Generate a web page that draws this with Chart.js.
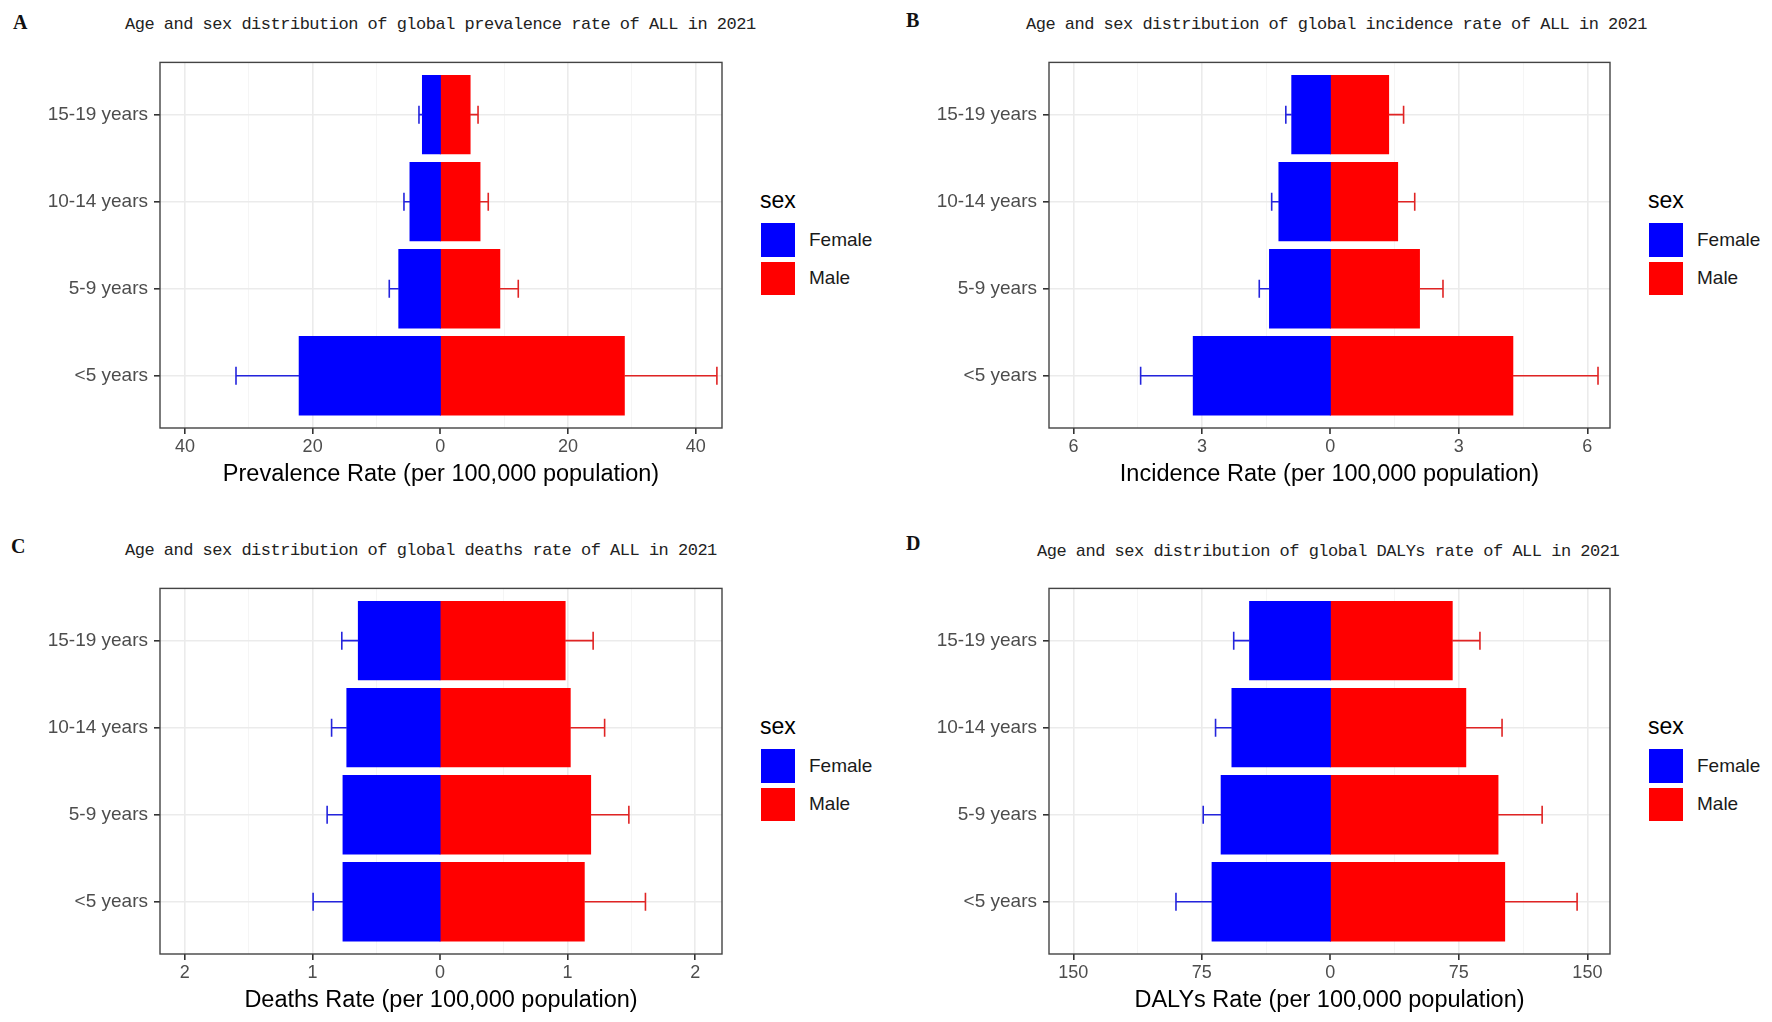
<!DOCTYPE html>
<html>
<head>
<meta charset="utf-8">
<script src="https://cdn.jsdelivr.net/npm/chart.js@4.4.1/dist/chart.umd.min.js"></script>
<style>
  html, body { margin: 0; padding: 0; background: #fff; overflow: hidden; }
  body { width: 1772px; height: 1022px; position: relative; font-family: 'Liberation Sans', Arial, sans-serif; }
  canvas { position: absolute; }
  .lbl { position: absolute; font: bold 20px 'Liberation Serif', serif; line-height: 20px; color: #111; }
  .ttl { position: absolute; font: 17px 'Liberation Mono', monospace; letter-spacing: -0.5px; line-height: 20px; color: #222; white-space: nowrap; }
  .leg-t { position: absolute; font-size: 23px; line-height: 26px; color: #000; }
  .leg-k { position: absolute; width: 34px; }
  .leg-l { position: absolute; font-size: 19px; line-height: 22px; color: #1a1a1a; }
</style>
</head>
<body>

<div class="lbl" style="left:13px;top:12px">A</div>
<div class="ttl" style="left:125px;top:15px">Age and sex distribution of global prevalence rate of ALL in 2021</div>
<canvas id="chartA" width="732" height="455" style="left:0px;top:45px"></canvas>
<div class="leg-t" style="left:760px;top:187px">sex</div>
<div class="leg-k" style="left:761px;top:223px;height:34px;background:#0000ff"></div>
<div class="leg-k" style="left:761px;top:262px;height:33px;background:#ff0000"></div>
<div class="leg-l" style="left:809px;top:229px">Female</div>
<div class="leg-l" style="left:809px;top:267px">Male</div>

<div class="lbl" style="left:906px;top:10px">B</div>
<div class="ttl" style="left:1026px;top:15px">Age and sex distribution of global incidence rate of ALL in 2021</div>
<canvas id="chartB" width="734" height="455" style="left:886px;top:45px"></canvas>
<div class="leg-t" style="left:1648px;top:187px">sex</div>
<div class="leg-k" style="left:1649px;top:223px;height:34px;background:#0000ff"></div>
<div class="leg-k" style="left:1649px;top:262px;height:33px;background:#ff0000"></div>
<div class="leg-l" style="left:1697px;top:229px">Female</div>
<div class="leg-l" style="left:1697px;top:267px">Male</div>

<div class="lbl" style="left:11px;top:536px">C</div>
<div class="ttl" style="left:125px;top:541px">Age and sex distribution of global deaths rate of ALL in 2021</div>
<canvas id="chartC" width="732" height="455" style="left:0px;top:571px"></canvas>
<div class="leg-t" style="left:760px;top:713px">sex</div>
<div class="leg-k" style="left:761px;top:749px;height:34px;background:#0000ff"></div>
<div class="leg-k" style="left:761px;top:788px;height:33px;background:#ff0000"></div>
<div class="leg-l" style="left:809px;top:755px">Female</div>
<div class="leg-l" style="left:809px;top:793px">Male</div>

<div class="lbl" style="left:906px;top:533px">D</div>
<div class="ttl" style="left:1037px;top:542px">Age and sex distribution of global DALYs rate of ALL in 2021</div>
<canvas id="chartD" width="734" height="455" style="left:886px;top:571px"></canvas>
<div class="leg-t" style="left:1648px;top:713px">sex</div>
<div class="leg-k" style="left:1649px;top:749px;height:34px;background:#0000ff"></div>
<div class="leg-k" style="left:1649px;top:788px;height:33px;background:#ff0000"></div>
<div class="leg-l" style="left:1697px;top:755px">Female</div>
<div class="leg-l" style="left:1697px;top:793px">Male</div>

<script>
// age groups, top to bottom
const ageGroups = ["15-19 years", "10-14 years", "5-9 years", "<5 years"];

// A - prevalence (per 100,000)
const prevFemale = [2.8, 4.75, 6.5, 22.1];
const prevFemaleUpper = [3.35, 5.7, 8.0, 32.0];
const prevMale = [4.65, 6.2, 9.3, 28.8];
const prevMaleUpper = [5.9, 7.5, 12.2, 43.3];
const prevTicks = [-40, -20, 0, 20, 40];
const prevMinor = [-30, -10, 10, 30];

// B - incidence
const incFemale = [0.9, 1.2, 1.42, 3.2];
const incFemaleUpper = [1.04, 1.37, 1.66, 4.43];
const incMale = [1.36, 1.57, 2.08, 4.26];
const incMaleUpper = [1.71, 1.97, 2.63, 6.25];
const incTicks = [-6, -3, 0, 3, 6];
const incMinor = [-4.5, -1.5, 1.5, 4.5];

// C - deaths
const deathFemale = [0.64, 0.73, 0.76, 0.76];
const deathFemaleUpper = [0.77, 0.85, 0.885, 0.995];
const deathMale = [0.98, 1.02, 1.18, 1.13];
const deathMaleUpper = [1.2, 1.29, 1.48, 1.61];
const deathTicks = [-2, -1, 0, 1, 2];
const deathMinor = [-1.5, -0.5, 0.5, 1.5];

// D - DALYs
const dalyFemale = [47.1, 57.4, 63.7, 69.0];
const dalyFemaleUpper = [56.4, 67.0, 74.2, 90.1];
const dalyMale = [71.1, 79.0, 97.8, 101.7];
const dalyMaleUpper = [87.3, 100.2, 123.6, 144.0];
const dalyTicks = [-150, -75, 0, 75, 150];
const dalyMinor = [-112.5, -37.5, 37.5, 112.5];

Chart.defaults.font.family = "'Liberation Sans', Arial, sans-serif";

const errorBars = {
  id: "errorBars",
  afterDatasetsDraw(chart) {
    const { ctx } = chart;
    const x = chart.scales.x;
    const y = chart.scales.y;
    chart.data.datasets.forEach((ds) => {
      ctx.save();
      ctx.strokeStyle = ds.errorColor;
      ctx.lineWidth = 1.6;
      ds.data.forEach((pt, i) => {
        const py = y.getPixelForValue(pt.y);
        const x0 = x.getPixelForValue(pt.x);
        const x1 = x.getPixelForValue(ds.errorTo[i]);
        ctx.beginPath();
        ctx.moveTo(x0, py);
        ctx.lineTo(x1, py);
        ctx.moveTo(x1, py - 9);
        ctx.lineTo(x1, py + 9);
        ctx.stroke();
      });
      ctx.restore();
    });
  },
};

const panelBorder = {
  id: "panelBorder",
  afterDraw(chart) {
    const { ctx, chartArea: a } = chart;
    ctx.save();
    ctx.strokeStyle = "#444";
    ctx.lineWidth = 1.4;
    ctx.strokeRect(a.left, a.top, a.right - a.left, a.bottom - a.top);
    ctx.restore();
  },
};

function drawPanel(id, yWidth, female, femaleUpper, male, maleUpper, major, minor, xMin, xMax, xTitle) {
  const allTicks = major.concat(minor).sort((a, b) => a - b);
  const isMajor = (c) => c.tick && major.includes(c.tick.value);

  new Chart(document.getElementById(id), {
    type: "bar",
    data: {
      datasets: [
        {
          label: "Female",
          data: female.map((v, i) => ({ x: -v, y: i })),
          errorTo: femaleUpper.map((v) => -v),
          backgroundColor: "#0000ff",
          errorColor: "#2424dd",
          stack: "sex",
        },
        {
          label: "Male",
          data: male.map((v, i) => ({ x: v, y: i })),
          errorTo: maleUpper,
          backgroundColor: "#ff0000",
          errorColor: "#e02424",
          stack: "sex",
        },
      ],
    },
    options: {
      indexAxis: "y",
      responsive: false,
      animation: false,
      barPercentage: 0.9,
      categoryPercentage: 1,
      inflateAmount: 0.5,
      layout: { padding: { top: 10, right: 10, bottom: 0, left: 0 } },
      plugins: { legend: { display: false }, tooltip: { enabled: false } },
      scales: {
        x: {
          type: "linear",
          stacked: true,
          min: xMin,
          max: xMax,
          afterBuildTicks: (ax) => {
            ax.ticks = allTicks.map((v) => ({ value: v }));
          },
          afterFit: (ax) => {
            ax.height = 72;
          },
          ticks: {
            autoSkip: false,
            maxRotation: 0,
            padding: 2,
            color: "#4d4d4d",
            font: { size: 18 },
            callback: (v) => (major.includes(v) ? String(Math.abs(v)) : ""),
          },
          grid: {
            color: (c) => (isMajor(c) ? "#ebebeb" : "#f5f5f5"),
            // zero line width 0 so the two bars meet with no gap
            lineWidth: (c) => (c.tick && c.tick.value === 0 ? 0 : isMajor(c) ? 1.6 : 1),
            tickLength: 6,
            tickWidth: 1.6,
            tickColor: (c) => (isMajor(c) ? "#333" : "rgba(0,0,0,0)"),
          },
          border: { display: false },
          title: {
            display: true,
            text: xTitle,
            color: "#000",
            font: { size: 23.5 },
            padding: { top: 0, bottom: 11.6 },
          },
        },
        y: {
          type: "linear",
          offset: false,
          min: -0.6,
          max: 3.6,
          reverse: true,
          afterBuildTicks: (ax) => {
            ax.ticks = ageGroups.map((g, i) => ({ value: i }));
          },
          afterFit: (ax) => {
            ax.width = yWidth;
          },
          ticks: {
            autoSkip: false,
            padding: 6,
            color: "#4d4d4d",
            font: { size: 19 },
            callback: (v) => ageGroups[v],
          },
          grid: { offset: false, color: "#ebebeb", lineWidth: 1.6, tickLength: 6, tickColor: "#333" },
          border: { display: false },
        },
      },
    },
    plugins: [errorBars, panelBorder],
  });
}

drawPanel("chartA", 160, prevFemale, prevFemaleUpper, prevMale, prevMaleUpper, prevTicks, prevMinor, -43.9, 44.1,
  "Prevalence Rate (per 100,000 population)");
drawPanel("chartB", 163, incFemale, incFemaleUpper, incMale, incMaleUpper, incTicks, incMinor, -6.57, 6.53,
  "Incidence Rate (per 100,000 population)");
drawPanel("chartC", 160, deathFemale, deathFemaleUpper, deathMale, deathMaleUpper, deathTicks, deathMinor, -2.195, 2.21,
  "Deaths Rate (per 100,000 population)");
drawPanel("chartD", 163, dalyFemale, dalyFemaleUpper, dalyMale, dalyMaleUpper, dalyTicks, dalyMinor, -164.2, 163.2,
  "DALYs Rate (per 100,000 population)");
</script>
</body>
</html>
